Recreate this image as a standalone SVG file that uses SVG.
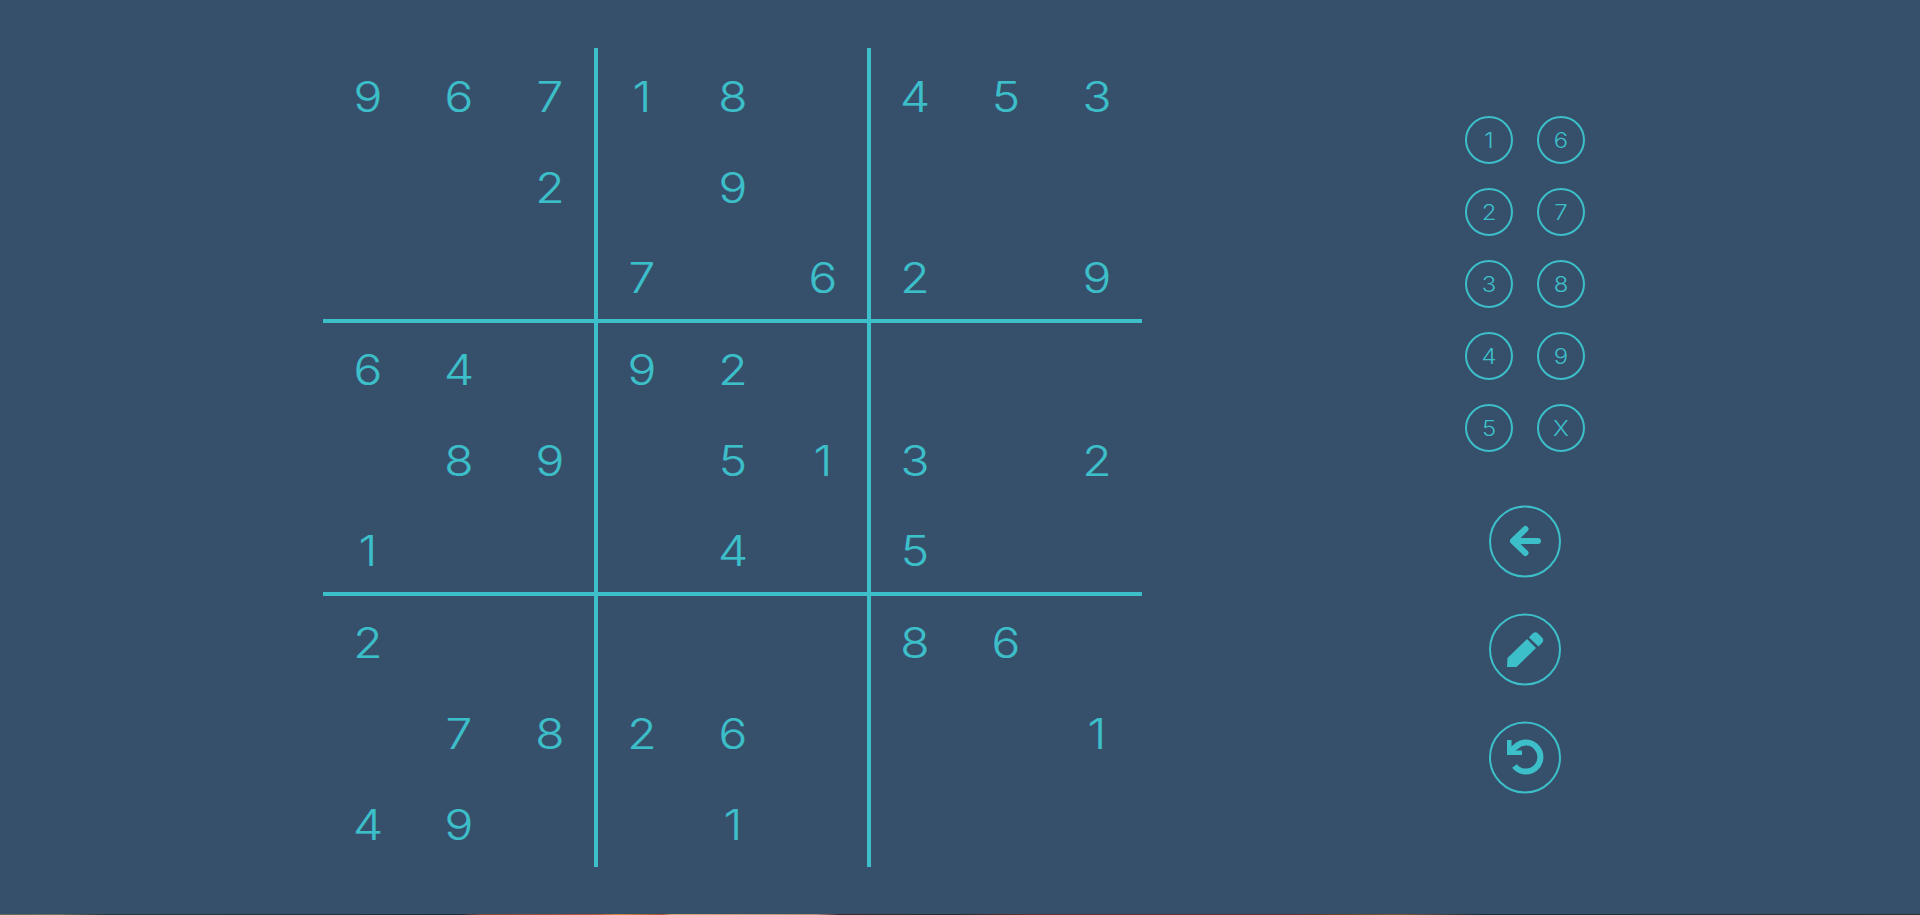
<svg xmlns="http://www.w3.org/2000/svg" width="1920" height="915" viewBox="0 0 1920 915">
<style>
.d,.k{font-family:"Inter","Liberation Sans",sans-serif;font-weight:300;fill:#3dbfca;text-anchor:middle;transform-box:fill-box;transform-origin:center;transform:scaleX(1.14)}
.d{font-size:42px;stroke:#3dbfca;stroke-width:.2}
.k{font-size:21px}
.c{fill:none;stroke:#3dbfca;stroke-width:2}
.l{stroke:#3dbfca;stroke-width:4}
.i{fill:none;stroke:#3dbfca}
.f{fill:#3dbfca}
</style>
<defs><linearGradient id="s" gradientUnits="userSpaceOnUse" x1="0" y1="0" x2="1920" y2="0">
<stop offset="0" stop-color="#5d6b4e"/><stop offset=".03" stop-color="#6a7458"/><stop offset=".055" stop-color="#2a3a3c"/><stop offset=".24" stop-color="#202e38"/><stop offset=".25" stop-color="#8a4a3c"/><stop offset=".31" stop-color="#c0553c"/><stop offset=".322" stop-color="#d58a3a"/><stop offset=".345" stop-color="#b5533a"/><stop offset=".35" stop-color="#d9a878"/><stop offset=".425" stop-color="#c09080"/><stop offset=".437" stop-color="#3a2a30"/><stop offset=".5" stop-color="#2c2c30"/><stop offset=".535" stop-color="#6a3428"/><stop offset=".675" stop-color="#6a3428"/><stop offset=".73" stop-color="#7a5a3a"/><stop offset=".77" stop-color="#20303a"/><stop offset="1" stop-color="#28352f"/></linearGradient></defs>
<rect width="1920" height="915" fill="#36506b"/>
<rect y="914" width="1920" height="1" fill="url(#s)"/>
<g id="grid">
<path class="l" d="M596 48V867M869 48V867M323 321H1142M323 594H1142"/>
</g>
<g id="digits">
<text class="d" x="368" y="112">9</text><text class="d" x="459" y="112">6</text><text class="d" x="550" y="112">7</text><text class="d" x="642" y="112">1</text><text class="d" x="733" y="112">8</text><text class="d" x="915" y="112">4</text><text class="d" x="1006" y="112">5</text><text class="d" x="1097" y="112">3</text>
<text class="d" x="550" y="203">2</text><text class="d" x="733" y="203">9</text>
<text class="d" x="642" y="293">7</text><text class="d" x="823" y="293">6</text><text class="d" x="915" y="293">2</text><text class="d" x="1097" y="293">9</text>
<text class="d" x="368" y="385">6</text><text class="d" x="459" y="385">4</text><text class="d" x="642" y="385">9</text><text class="d" x="733" y="385">2</text>
<text class="d" x="459" y="476">8</text><text class="d" x="550" y="476">9</text><text class="d" x="733" y="476">5</text><text class="d" x="823" y="476">1</text><text class="d" x="915" y="476">3</text><text class="d" x="1097" y="476">2</text>
<text class="d" x="368" y="566">1</text><text class="d" x="733" y="566">4</text><text class="d" x="915" y="566">5</text>
<text class="d" x="368" y="658">2</text><text class="d" x="915" y="658">8</text><text class="d" x="1006" y="658">6</text>
<text class="d" x="459" y="749">7</text><text class="d" x="550" y="749">8</text><text class="d" x="642" y="749">2</text><text class="d" x="733" y="749">6</text><text class="d" x="1097" y="749">1</text>
<text class="d" x="368" y="840">4</text><text class="d" x="459" y="840">9</text><text class="d" x="733" y="840">1</text>
</g>
<g id="key-1"><circle class="c" cx="1489" cy="140" r="23"/><text class="k" x="1489" y="148">1</text></g>
<g id="key-6"><circle class="c" cx="1561" cy="140" r="23"/><text class="k" x="1561" y="148">6</text></g>
<g id="key-2"><circle class="c" cx="1489" cy="212" r="23"/><text class="k" x="1489" y="220">2</text></g>
<g id="key-7"><circle class="c" cx="1561" cy="212" r="23"/><text class="k" x="1561" y="220">7</text></g>
<g id="key-3"><circle class="c" cx="1489" cy="284" r="23"/><text class="k" x="1489" y="292">3</text></g>
<g id="key-8"><circle class="c" cx="1561" cy="284" r="23"/><text class="k" x="1561" y="292">8</text></g>
<g id="key-4"><circle class="c" cx="1489" cy="356" r="23"/><text class="k" x="1489" y="364">4</text></g>
<g id="key-9"><circle class="c" cx="1561" cy="356" r="23"/><text class="k" x="1561" y="364">9</text></g>
<g id="key-5"><circle class="c" cx="1489" cy="428" r="23"/><text class="k" x="1489" y="436">5</text></g>
<g id="key-x"><circle class="c" cx="1561" cy="428" r="23"/><text class="k" x="1561" y="436">X</text></g>
<g id="btn-back"><circle class="c" cx="1525" cy="541.500" r="35"/><path class="i" d="M1513 541H1538M1525.500 529L1513 541L1525.500 553" stroke-width="6" stroke-linecap="round" stroke-linejoin="round"/></g>
<g id="btn-pencil"><circle class="c" cx="1525" cy="649.500" r="35"/><path class="f" d="M1507 667L1507.500 658L1527 639L1536 648L1516.500 667Z"/><path class="f" d="M1529 637.500L1532 634Q1535 631 1538 633.500L1542 637.500Q1544.500 640 1542 643L1538.500 646.500Z"/></g>
<g id="btn-reset"><circle class="c" cx="1525" cy="757.500" r="35"/><path class="i" d="M1509 752L1516 746.500A14.500 14.500 0 1 1 1514.500 766" stroke-width="6"/><path class="f" d="M1507 740H1511.500V750.500H1522V755H1507Z"/></g>
</svg>
